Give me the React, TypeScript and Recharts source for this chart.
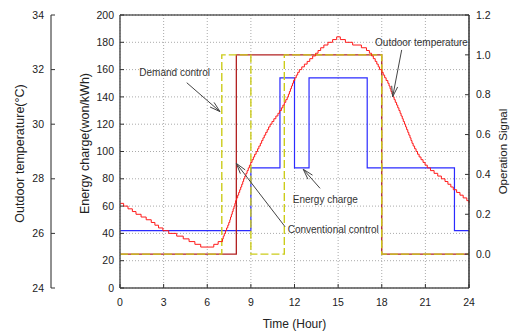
import React from 'react';
import { LineChart, Line, XAxis, YAxis, CartesianGrid, ReferenceLine, ReferenceDot } from 'recharts';

const FONT = "'Liberation Sans', Arial, sans-serif";

const hourTicks = [0, 3, 6, 9, 12, 15, 18, 21, 24];
const energyTicks = [0, 20, 40, 60, 80, 100, 120, 140, 160, 180, 200];
const tempTicks = [24, 26, 28, 30, 32, 34];
const signalTicks = [0, 0.2, 0.4, 0.6, 0.8, 1.0, 1.2];

const chargeHours = [0, 9, 11, 12, 13, 17, 23, 24];
const chargeValues = [42, 88, 154, 88, 154, 88, 42, 42];

const demandHours = [0, 7, 9, 11.3, 18, 24];
const demandSignal = [0, 1, 0, 1, 0, 0];

const conventionalHours = [0, 8, 18, 24];
const conventionalSignal = [0, 1, 0, 0];

const tempHours = [
  0, 0.25, 0.55, 0.85, 1.1, 1.45, 1.8, 2.15, 2.4, 2.65, 2.95, 3.35, 3.9, 4.35, 4.75, 5.15, 5.55, 6.45, 6.75,
  7.05, 7.1, 7.17, 7.25, 7.33, 7.41, 7.48, 7.55, 7.6, 7.66,
  7.72, 7.78, 7.84, 7.9, 7.95, 8.02, 8.09, 8.16, 8.23, 8.3,
  8.37, 8.44, 8.5, 8.58, 8.66, 8.74, 8.82, 8.9, 8.99, 9.08,
  9.17, 9.26, 9.36, 9.46, 9.55, 9.65, 9.74, 9.83, 9.92, 10.02,
  10.12, 10.22, 10.32, 10.45, 10.58, 10.72, 10.86, 10.98, 11.1, 11.2,
  11.3, 11.4, 11.5, 11.58, 11.65, 11.72, 11.79, 11.86, 11.93, 12.02,
  12.12, 12.22, 12.33, 12.5, 12.68, 12.87, 13.05, 13.25, 13.45, 13.62,
  13.8, 14.02, 14.3, 14.62, 14.9,
  15.15, 15.5, 16.0, 16.6, 16.95, 17.15, 17.3, 17.42, 17.55, 17.66,
  17.76, 17.85, 18.0, 18.1, 18.2, 18.3, 18.42, 18.5, 18.57, 18.63,
  18.7, 18.77, 18.85, 18.93, 19.02, 19.1, 19.18, 19.26, 19.33, 19.41,
  19.48, 19.56, 19.64, 19.71, 19.79, 19.86, 19.94, 20.01, 20.08, 20.16,
  20.26, 20.36, 20.46, 20.57, 20.7, 20.84, 20.98, 21.13, 21.35, 21.6,
  21.85, 22.1, 22.35, 22.55, 22.75, 22.92, 23.15, 23.38, 23.6, 23.85,
  24,
];
const tempValues = [
  27.1, 27.0, 26.9, 26.8, 26.7, 26.6, 26.5, 26.4, 26.3, 26.2, 26.1, 26.0, 25.9, 25.8, 25.7, 25.6, 25.5, 25.6, 25.7,
  25.8, 25.9, 26.0, 26.1, 26.2, 26.3, 26.4, 26.5, 26.6, 26.7,
  26.8, 26.9, 27.0, 27.1, 27.2, 27.3, 27.4, 27.5, 27.6, 27.7,
  27.8, 27.9, 28.0, 28.1, 28.2, 28.3, 28.4, 28.5, 28.6, 28.7,
  28.8, 28.9, 29.0, 29.1, 29.2, 29.3, 29.4, 29.5, 29.6, 29.7,
  29.8, 29.9, 30.0, 30.1, 30.2, 30.3, 30.4, 30.5, 30.6, 30.7,
  30.8, 30.9, 31.0, 31.1, 31.2, 31.3, 31.4, 31.5, 31.6, 31.7,
  31.8, 31.9, 32.0, 32.1, 32.2, 32.3, 32.4, 32.5, 32.6, 32.7,
  32.8, 32.9, 33.0, 33.1, 33.2,
  33.1, 33.0, 32.9, 32.8, 32.7, 32.6, 32.5, 32.4, 32.3, 32.2,
  32.1, 32.0, 31.9, 31.8, 31.7, 31.6, 31.5, 31.4, 31.3, 31.2,
  31.1, 31.0, 30.9, 30.8, 30.7, 30.6, 30.5, 30.4, 30.3, 30.2,
  30.1, 30.0, 29.9, 29.8, 29.7, 29.6, 29.5, 29.4, 29.3, 29.2,
  29.1, 29.0, 28.9, 28.8, 28.7, 28.6, 28.5, 28.4, 28.3, 28.2,
  28.1, 28.0, 27.9, 27.8, 27.7, 27.6, 27.5, 27.4, 27.3, 27.2,
  27.1,
];

// annotation anchors in data units (hour, energy charge)
const notes = [
  { text: 'Demand control', h: 1.33, e: 157.7 },
  { text: 'Outdoor temperature', h: 17.54, e: 180 },
  { text: 'Energy charge', h: 11.88, e: 64.5 },
  { text: 'Conventional control', h: 11.53, e: 43.2 },
];
const arrows = [
  { from: { x: 4.59, y: 150.4 }, to: { x: 6.88, y: 129.2 } },
  { from: { x: 19.37, y: 174.4 }, to: { x: 18.75, y: 140.1 } },
  { from: { x: 13.76, y: 73.0 }, to: { x: 12.6, y: 87.0 } },
  { from: { x: 11.35, y: 44.9 }, to: { x: 8.0, y: 91.3 } },
];

const zip = (xs: number[], ys: number[], key: string) => xs.map((h, i) => ({ h, [key]: ys[i] }));

const chargeData = zip(chargeHours, chargeValues, 'v');
const demandData = zip(demandHours, demandSignal, 'v');
const conventionalData = zip(conventionalHours, conventionalSignal, 'v');
const tempData = zip(tempHours, tempValues, 'v');

const tickText = { fontFamily: FONT, fontSize: 10.5, fill: '#222' };

const makeLeftTick = (margin: number, len: number, fmt: (v: number) => string) => (p: any) => {
  const ax = p.x + margin;
  return (
    <g>
      <line x1={ax} x2={ax + len} y1={p.y} y2={p.y} stroke="#333" strokeWidth={1} />
      <text x={p.x} y={p.y} dy="0.35em" textAnchor="end" {...tickText}>{fmt(p.payload.value)}</text>
    </g>
  );
};
const makeRightTick = (margin: number, len: number, fmt: (v: number) => string) => (p: any) => {
  const ax = p.x - margin;
  return (
    <g>
      <line x1={ax} x2={ax - len} y1={p.y} y2={p.y} stroke="#333" strokeWidth={1} />
      <text x={p.x} y={p.y} dy="0.35em" textAnchor="start" {...tickText}>{fmt(p.payload.value)}</text>
    </g>
  );
};
const makeBottomTick = (margin: number, len: number) => (p: any) => {
  const ay = p.y - margin;
  return (
    <g>
      <line x1={p.x} x2={p.x} y1={ay} y2={ay - len} stroke="#333" strokeWidth={1} />
      <text x={p.x} y={p.y} dy="0.71em" textAnchor="middle" {...tickText}>{p.payload.value}</text>
    </g>
  );
};

const Arrow = (p: any) => {
  const { x1, y1, x2, y2 } = p;
  const ang = Math.atan2(y2 - y1, x2 - x1);
  const L = 11;
  const a1 = ang + Math.PI - 0.28;
  const a2 = ang + Math.PI + 0.28;
  return (
    <g stroke="#444" strokeWidth={1} fill="none">
      <line x1={x1} y1={y1} x2={x2} y2={y2} />
      <line x1={x2} y1={y2} x2={x2 + L * Math.cos(a1)} y2={y2 + L * Math.sin(a1)} />
      <line x1={x2} y1={y2} x2={x2 + L * Math.cos(a2)} y2={y2 + L * Math.sin(a2)} />
    </g>
  );
};

const noteShape = (text: string) => (p: any) => (
  <text x={p.cx} y={p.cy} dy="0.35em" textAnchor="start" fontFamily={FONT} fontSize={10} fill="#333">
    {text}
  </text>
);

const titleStyle = { fontFamily: FONT, fontSize: 12.5, fill: '#222', textAnchor: 'middle' as const };

export default function App() {
  return (
    <div style={{ position: 'absolute', left: 0, top: 0, width: 511, height: 332, background: '#fff' }}>
      <LineChart width={511} height={332} margin={{ top: 15, right: 0, bottom: 0, left: 0 }}>
        <CartesianGrid yAxisId="energy" stroke="#aaa" strokeDasharray="1 2" />
        <XAxis
          dataKey="h"
          type="number"
          domain={[0, 24]}
          ticks={hourTicks}
          height={44}
          tickSize={0}
          tickMargin={11}
          tickLine={false}
          axisLine={{ stroke: '#555', strokeWidth: 1.5 }}
          tick={makeBottomTick(11, 4)}
          label={{ value: 'Time (Hour)', position: 'insideBottom', offset: 4, style: { fontFamily: FONT, fontSize: 12, fill: '#222' } }}
        />
        <YAxis
          yAxisId="energy"
          orientation="left"
          width={69}
          domain={[0, 200]}
          ticks={energyTicks}
          tickSize={0}
          tickMargin={6}
          tickLine={false}
          axisLine={{ stroke: '#555', strokeWidth: 1.5 }}
          tick={makeLeftTick(6, 4, (v) => String(v))}
          label={{ value: 'Energy charge(won/kWh)', angle: -90, position: 'insideLeft', offset: 34, dy: -8, style: titleStyle }}
        />
        <YAxis
          yAxisId="temp"
          orientation="left"
          width={51}
          domain={[24, 34]}
          ticks={tempTicks}
          tickSize={0}
          tickMargin={7}
          tickLine={false}
          axisLine={{ stroke: '#222', strokeWidth: 1 }}
          tick={makeLeftTick(7, 4, (v) => String(v))}
          label={{ value: 'Outdoor temperature(°C)', angle: -90, position: 'insideLeft', offset: 20, dy: 2, style: titleStyle }}
        />
        <YAxis
          yAxisId="signal"
          orientation="right"
          width={42}
          domain={[-0.17, 1.2]}
          allowDataOverflow
          ticks={signalTicks}
          tickSize={0}
          tickMargin={7}
          tickLine={false}
          axisLine={{ stroke: '#333', strokeWidth: 1.5 }}
          tick={makeRightTick(7, 4, (v) => v.toFixed(1))}
          label={{ value: 'Operation Signal', angle: -90, position: 'insideRight', offset: 8, style: { ...titleStyle, fontSize: 11.5 } }}
        />
        <ReferenceLine yAxisId="energy" y={200} stroke="#111" strokeWidth={1} />

        <Line data={chargeData} yAxisId="energy" dataKey="v" type="stepAfter" stroke="#2b2bff" strokeWidth={1.2} dot={false} isAnimationActive={false} />
        <Line data={conventionalData} yAxisId="signal" dataKey="v" type="stepAfter" stroke="#b22222" strokeWidth={1.3} dot={false} isAnimationActive={false} />
        <Line data={demandData} yAxisId="signal" dataKey="v" type="stepAfter" stroke="#cccc1a" strokeWidth={1.4} strokeDasharray="8 3" dot={false} isAnimationActive={false} />
        <Line data={tempData} yAxisId="temp" dataKey="v" type="stepAfter" stroke="#ff1a1a" strokeWidth={1} dot={false} isAnimationActive={false} />

        {arrows.map((a, i) => (
          <ReferenceLine key={'a' + i} yAxisId="energy" segment={[a.from, a.to]} shape={Arrow} />
        ))}
        {notes.map((n) => (
          <ReferenceDot key={n.text} yAxisId="energy" x={n.h} y={n.e} r={0} shape={noteShape(n.text)} />
        ))}
      </LineChart>
    </div>
  );
}
